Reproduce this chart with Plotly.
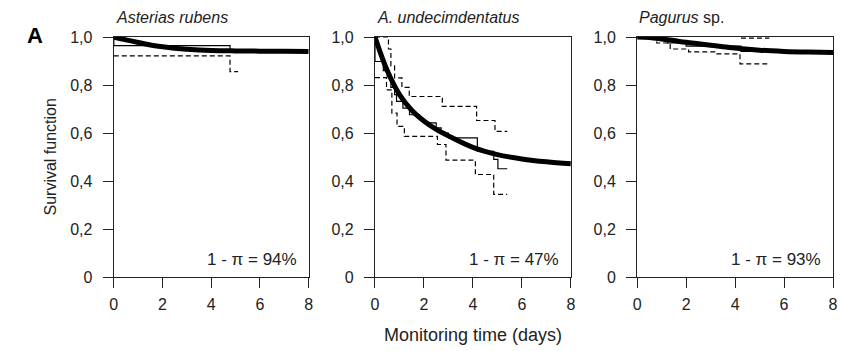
import plotly.graph_objects as go

# ---- axis ticks -------------------------------------------------------------
day_ticks = [0, 2, 4, 6, 8]
surv_ticks = [0, 0.2, 0.4, 0.6, 0.8, 1.0]
surv_tick_text = ["0", "0,2", "0,4", "0,6", "0,8", "1,0"]

# ---- panels -----------------------------------------------------------------
species = ["<i>Asterias rubens</i>", "<i>A. undecimdentatus</i>", "<i>Pagurus</i> sp."]
surviving_pct = [94, 47, 93]

# fitted cure-model survival curves (thick line)
fit_t = [0, 0.5, 1, 1.5, 2, 2.5, 3, 4, 5, 6, 7, 8]
fit_asterias = [1.0, 0.988, 0.977, 0.967, 0.959, 0.953, 0.949, 0.944, 0.942, 0.941, 0.9405, 0.94]
fit_undecim = [1.0, 0.86, 0.76, 0.695, 0.65, 0.615, 0.588, 0.54, 0.51, 0.492, 0.48, 0.472]
fit_pagurus = [1.0, 0.998, 0.992, 0.985, 0.978, 0.972, 0.966, 0.954, 0.945, 0.94, 0.937, 0.935]

# Kaplan-Meier estimates (thin step) with confidence bands (dashed steps);
# band limits lying on the 1.0 frame line are left out
km_asterias_t = [0, 0, 4.77, 5.1]
km_asterias_s = [1.0, 0.964, 0.94, 0.94]
lo_asterias_t = [0, 4.77, 5.1]
lo_asterias_s = [0.921, 0.856, 0.856]
hi_asterias_t = []
hi_asterias_s = []

km_undecim_t = [0, 0, 0.34, 0.5, 0.65, 0.8, 0.88, 1.14, 1.41, 1.82, 2.0, 2.5, 2.7, 3.0, 4.18, 4.85, 5.02, 5.4]
km_undecim_s = [1.0, 0.898, 0.86, 0.835, 0.79, 0.76, 0.732, 0.704, 0.676, 0.66, 0.642, 0.621, 0.60, 0.58, 0.524, 0.49, 0.451, 0.451]
lo_undecim_t = [0, 0.47, 0.69, 0.9, 1.2, 2.55, 2.9, 4.1, 4.85, 5.4]
lo_undecim_s = [0.831, 0.78, 0.683, 0.628, 0.586, 0.552, 0.487, 0.427, 0.344, 0.344]
hi_undecim_t = [0, 0.55, 0.65, 0.8, 1.1, 1.4, 2.75, 4.15, 4.9, 5.4]
hi_undecim_s = [1.0, 0.95, 0.88, 0.83, 0.79, 0.752, 0.711, 0.652, 0.607, 0.607]

km_pagurus_t = [0, 0.8, 1.25, 2.0, 4.24, 5.4]
km_pagurus_s = [1.0, 0.988, 0.975, 0.962, 0.94, 0.94]
lo_pagurus_t = [0, 0.8, 1.35, 2.1, 3.2, 4.2, 5.4]
lo_pagurus_s = [1.0, 0.975, 0.95, 0.938, 0.93, 0.888, 0.888]
hi_pagurus_t = [4.24, 5.4]
hi_pagurus_s = [0.995, 0.995]

panels = [
    (fit_asterias, km_asterias_t, km_asterias_s, lo_asterias_t, lo_asterias_s, hi_asterias_t, hi_asterias_s),
    (fit_undecim, km_undecim_t, km_undecim_s, lo_undecim_t, lo_undecim_s, hi_undecim_t, hi_undecim_s),
    (fit_pagurus, km_pagurus_t, km_pagurus_s, lo_pagurus_t, lo_pagurus_s, hi_pagurus_t, hi_pagurus_s),
]

W, H = 841, 351
domains = [(111 / W, 308 / W), (375 / W, 573 / W), (640 / W, 838 / W)]

FONT = "Liberation Sans, Arial, Helvetica, sans-serif"
INK = "#222222"

fig = go.Figure()
for i, (fit, kt, ks, lt, ls, ht, hs) in enumerate(panels):
    ax = "" if i == 0 else str(i + 1)
    xr, yr = "x" + ax, "y" + ax
    for tt, ss in ((lt, ls), (ht, hs)):
        if not tt:
            continue
        fig.add_trace(go.Scatter(x=tt, y=ss, mode="lines", line_shape="hv",
                                 line=dict(color="black", width=1.2, dash="5px,3px"),
                                 xaxis=xr, yaxis=yr, showlegend=False, hoverinfo="skip"))
    fig.add_trace(go.Scatter(x=kt, y=ks, mode="lines", line_shape="hv",
                             line=dict(color="black", width=1.2),
                             xaxis=xr, yaxis=yr, showlegend=False, hoverinfo="skip"))
    fig.add_trace(go.Scatter(x=fit_t, y=fit, mode="lines", line_shape="spline",
                             line=dict(color="black", width=5),
                             xaxis=xr, yaxis=yr, showlegend=False, hoverinfo="skip"))

    axis_common = dict(showline=True, linecolor=INK, linewidth=1.3, mirror=True,
                       showgrid=False, zeroline=False, ticks="outside", ticklen=10,
                       tickwidth=1.3, tickcolor=INK, layer="above traces",
                       tickfont=dict(family=FONT, size=16, color=INK))
    fig.layout["xaxis" + ax] = dict(axis_common, domain=list(domains[i]), range=[0, 8],
                                    tickvals=day_ticks, anchor=yr, ticklabelstandoff=3)
    fig.layout["yaxis" + ax] = dict(axis_common, domain=[0, 1], range=[0, 1],
                                    tickvals=surv_ticks, ticktext=surv_tick_text,
                                    anchor=xr, ticklabelstandoff=7)

    # species name above the panel
    fig.add_annotation(text=species[i], xref="paper", yref="paper",
                       x=domains[i][0], y=1.083, xanchor="left", yanchor="middle",
                       showarrow=False, font=dict(family=FONT, size=16, color=INK))
    # long-term surviving fraction
    fig.add_annotation(text=f"1 - \u03c0 = {surviving_pct[i]}%", xref=xr, yref=yr,
                       x=7.6, y=0.072, xanchor="right", yanchor="middle",
                       showarrow=False, font=dict(family=FONT, size=17, color=INK))

fig.add_annotation(text="Monitoring time (days)", xref="paper", yref="paper",
                   x=474 / W, y=-0.242, xanchor="center", yanchor="middle",
                   showarrow=False, font=dict(family=FONT, size=18, color=INK))
fig.add_annotation(text="Survival function", xref="paper", yref="paper",
                   x=47 / W, y=0.5, xanchor="center", yanchor="middle", textangle=-90,
                   showarrow=False, font=dict(family=FONT, size=16, color=INK))
fig.add_annotation(text="<b>A</b>", xref="paper", yref="paper",
                   x=31 / W, y=1.008, xanchor="center", yanchor="middle",
                   showarrow=False, font=dict(family=FONT, size=22, color="black"))

fig.update_layout(width=W, height=H, margin=dict(l=0, r=0, t=37, b=74),
                  paper_bgcolor="white", plot_bgcolor="white")

fig.write_html("out.html")
